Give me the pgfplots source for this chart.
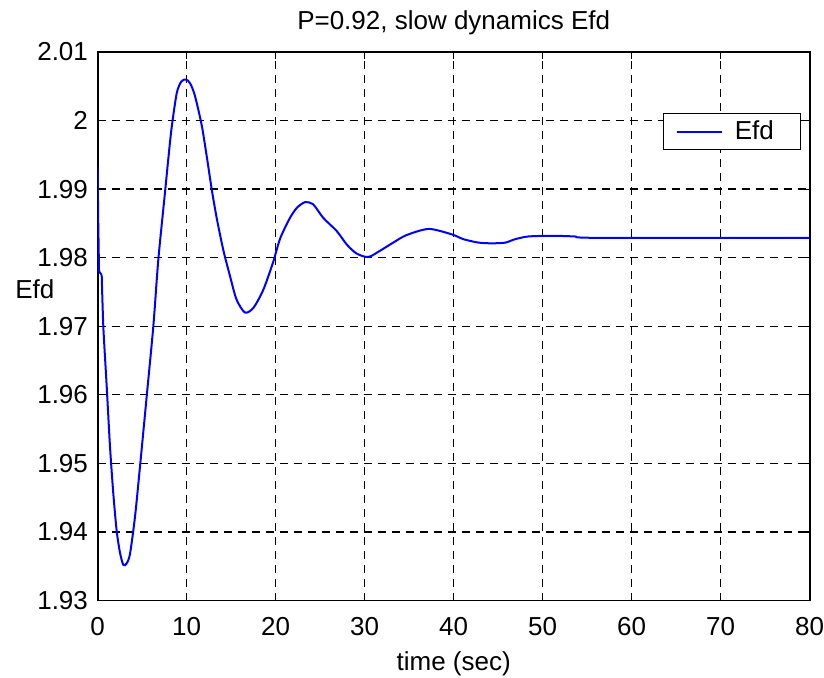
\documentclass[border=0pt]{standalone}
\usepackage{fontspec}
\setmainfont{Liberation Sans}
\usepackage{pgfplots}
\pgfplotsset{compat=1.18}
\begin{document}
\begin{tikzpicture}
\path[use as bounding box] (-48.85pt,-38.25pt) rectangle (363.15pt,300.25pt);
\begin{axis}[
  scale only axis,
  width=356pt, height=274.25pt,
  at={(0pt,0pt)}, anchor=south west,
  xmin=0, xmax=80, ymin=1.93, ymax=2.01,
  xtick={0,10,...,80},
  ytick={1.93,1.94,1.95,1.96,1.97,1.98,1.99,2,2.01},
  yticklabels={1.93,1.94,1.95,1.96,1.97,1.98,1.99,2,2.01},
  /pgf/number format/assume math mode=true,
  font=\fontsize{13}{15}\selectfont,
  tick label style={font=\fontsize{13}{15}\selectfont},
  xticklabel style={anchor=base, yshift=-17.25pt, inner sep=0pt},
  yticklabel style={anchor=east, xshift=-4.7pt, inner sep=0pt},
  tick align=inside,
  major tick length=3.5pt,
  every tick/.style={black, line width=0.6pt},
  axis line style={line width=0.9pt, black},
  grid=major,
  major grid style={black, line width=0.65pt, dash pattern=on 4pt off 3pt},
  title={P=0.92, slow dynamics Efd},
  title style={at={(axis description cs:0.5,1)}, anchor=base, yshift=5.5pt, inner sep=0pt},
  xlabel={time (sec)},
  xlabel style={at={(axis description cs:0.5,0)}, anchor=base, yshift=-34.75pt, inner sep=0pt},
  ylabel={Efd},
  every axis y label/.style={at={(axis description cs:0,0.5515)}, anchor=base west, xshift=-41.35pt, inner sep=0pt},
  legend style={at={(axis description cs:0.9878,0.8893)}, anchor=north east,
    draw=black, line width=0.7pt, fill=white,
    inner xsep=6.2pt, inner ysep=3.6pt,
    font=\fontsize{13}{15}\selectfont,
    nodes={inner sep=0pt}},
  legend image code/.code={\draw[#1, blue, line width=1pt] (0pt,0pt) -- (22.5pt,0pt);},
]
\addplot[blue, line width=1pt, forget plot] coordinates {
(0,1.9932) (0.05,1.986) (0.15,1.978) (0.45,1.9775)
};
\addplot[blue, line width=1pt, smooth, tension=0.45] coordinates {
(0.45,1.9775) (0.63,1.9700) (1.0,1.9615)
(1.38,1.9525) (1.76,1.9455) (2.13,1.9402) (2.5,1.9370) (2.88,1.9352) (3.25,1.9354)
(3.63,1.9368) (4.19,1.9422) (4.75,1.9495) (5.5,1.9597) (6.25,1.970) (6.81,1.9797)
(7.56,1.9895) (7.94,1.9945) (8.31,1.9990) (8.88,2.0040) (9.4,2.0057) (9.92,2.0060)
(10.4,2.0054) (10.93,2.0036) (11.69,1.9993) (12.25,1.9948) (12.81,1.9900) (13.37,1.9858)
(14.1,1.9812) (14.87,1.9773) (15.6,1.9739) (16.55,1.9720) (17.5,1.9727) (18.6,1.9753)
(19.7,1.9793) (20.5,1.9828) (21.6,1.9858) (22.4,1.9873) (23.3,1.9881) (24.2,1.9878)
(25.35,1.9858) (26.85,1.9839) (28.0,1.9819) (29.1,1.9806) (30.4,1.9801) (31.7,1.9810)
(33.2,1.9822) (34.7,1.9833) (37.2,1.9842) (39.8,1.9834) (41.1,1.9827)
(42.8,1.9822) (44.3,1.9821) (45.8,1.9822) (46.9,1.9827) (48.4,1.9831) (51,1.9832) (53.6,1.9831) (56,1.9829)
(80,1.9829)
};
\addlegendentry{\hspace*{6pt}Efd\hspace*{7pt}}
\end{axis}
\end{tikzpicture}
\end{document}
